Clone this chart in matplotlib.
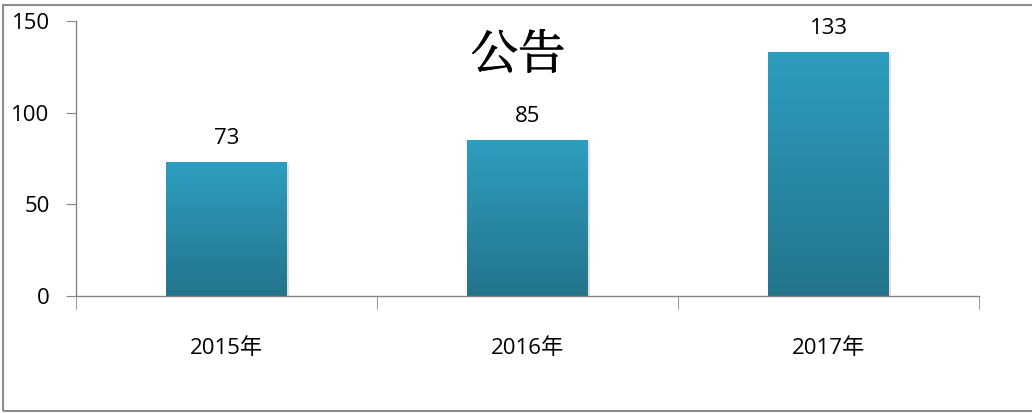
import numpy as np
import matplotlib
matplotlib.use("Agg")
import matplotlib.pyplot as plt
import matplotlib.patheffects as pe
from matplotlib.colors import LinearSegmentedColormap
from matplotlib.patches import Rectangle

years = ["2015年", "2016年", "2017年"]
counts = [73, 85, 133]
y_ticks = [0, 50, 100, 150]
title = "公告"

plt.rcParams["font.family"] = ["Open Sans", "Noto Sans CJK SC", "DejaVu Sans"]

fig = plt.figure(figsize=(10.32, 4.13), dpi=100)
# axes placed to match the reference plot area
ax = fig.add_axes([76 / 1032, 1 - 296 / 413, (979 - 76) / 1032, (296 - 21) / 413])

x = np.arange(len(years))
bars = ax.bar(x, counts, width=0.40, color="none", edgecolor="none", zorder=2)

# vertical gradient fill, lighter at the top
cmap = LinearSegmentedColormap.from_list("teal", ["#23748b", "#2e9ec0"])
grad = np.linspace(0, 1, 256).reshape(-1, 1)
for b in bars:
    x0, y0, w, h = b.get_x(), b.get_y(), b.get_width(), b.get_height()
    shadow = Rectangle((x0 + 0.006, y0 - 1.2), w, h, facecolor="#000000",
                       alpha=0.12, edgecolor="none", zorder=1)
    ax.add_patch(shadow)
    im = ax.imshow(grad, cmap=cmap, origin="lower", aspect="auto",
                   extent=[x0, x0 + w, y0, y0 + h], zorder=2)
    im.set_clip_path(b)
    ax.text(x0 + w / 2, h + 7, str(h), ha="center", va="bottom", fontsize=16)

ax.set_xlim(-0.5, len(years) - 0.5)
ax.set_ylim(0, 150)
ax.set_yticks(y_ticks)
ax.tick_params(axis="y", labelsize=16, length=7, color="#868686", pad=12)

# category labels centred, ticks on category boundaries
ax.set_xticks(x)
ax.set_xticklabels(years, fontsize=16)
ax.tick_params(axis="x", length=0, pad=30)
ax.set_xticks(np.arange(-0.5, len(years)), minor=True)
ax.tick_params(axis="x", which="minor", length=9, color="#868686")

for side in ["top", "right"]:
    ax.spines[side].set_visible(False)
for side in ["left", "bottom"]:
    ax.spines[side].set_color("#868686")
    ax.spines[side].set_linewidth(1.0)

# regular serif weight, thickened slightly to look like the original
fig.text(0.502, 1 - 56 / 413, title, ha="center", va="center", fontsize=34,
         family=["Noto Serif CJK SC", "Noto Sans CJK SC"], color="black",
         path_effects=[pe.withStroke(linewidth=0.6, foreground="black")])

# outer chart frame
fig.patches.append(Rectangle((3 / 1032, 2 / 413), 1.2, 1 - 7 / 413,
                             transform=fig.transFigure, fill=False,
                             edgecolor="#8c8c8c", linewidth=1.5))

fig.savefig("out.png", dpi=100)
